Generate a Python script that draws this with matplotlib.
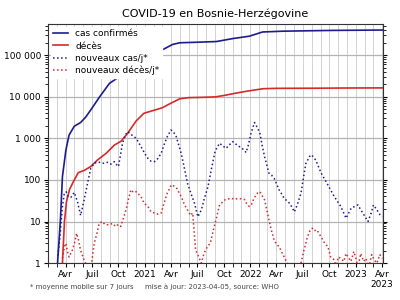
import matplotlib
matplotlib.use('Agg')
import matplotlib.pyplot as plt
import matplotlib.dates as mdates
from matplotlib.ticker import FuncFormatter, LogLocator, NullFormatter
import numpy as np
import pandas as pd

# données (OMS)
cas_dates = ['2020-03-04', '2020-03-14', '2020-03-21', '2020-04-02', '2020-04-13',
             '2020-05-01', '2020-05-23', '2020-06-09', '2020-06-27', '2020-07-28',
             '2020-08-31', '2020-09-30', '2020-10-28', '2020-11-30', '2020-12-31',
             '2021-01-28', '2021-03-03', '2021-04-06', '2021-05-01', '2021-07-08',
             '2021-09-05', '2021-11-01', '2021-12-28', '2022-02-12', '2022-04-22',
             '2022-10-13', '2023-04-05']
cas_confirmes = [1, 11, 120, 525, 1200,
                 1950, 2400, 3200, 4800, 10000,
                 21000, 29000, 42000, 85000, 110000,
                 120000, 135000, 180000, 198000, 205000,
                 212000, 250000, 285000, 360000, 376000,
                 393000, 401000]

deces_dates = ['2020-03-21', '2020-03-28', '2020-04-04', '2020-04-15', '2020-05-01',
               '2020-05-15', '2020-06-05', '2020-06-27', '2020-07-20', '2020-08-20',
               '2020-09-17', '2020-10-10', '2020-11-01', '2020-12-01', '2020-12-28',
               '2021-01-31', '2021-03-01', '2021-04-01', '2021-05-01', '2021-06-01',
               '2021-07-15', '2021-09-01', '2021-10-01', '2021-11-01', '2021-12-01',
               '2022-01-01', '2022-02-15', '2022-04-01', '2022-08-01', '2022-12-01',
               '2023-04-05']
deces = [1, 10, 30, 60, 100,
         150, 170, 210, 300, 440,
         690, 850, 1300, 2600, 4000,
         4700, 5400, 7000, 8900, 9500,
         9650, 9900, 10700, 11800, 12900,
         14000, 15600, 15900, 16000, 16200,
         16300]

nc_dates = ['2020-03-05', '2020-03-12', '2020-03-20', '2020-03-27', '2020-04-03',
            '2020-04-10', '2020-04-19', '2020-05-01', '2020-05-12', '2020-05-23',
            '2020-06-04', '2020-06-16', '2020-06-27', '2020-07-09', '2020-07-20',
            '2020-08-01', '2020-08-12', '2020-08-24', '2020-09-05', '2020-09-17',
            '2020-09-25', '2020-10-01', '2020-10-08', '2020-10-15', '2020-10-25',
            '2020-11-02', '2020-11-12', '2020-11-25', '2020-12-05', '2020-12-18',
            '2021-01-01', '2021-01-11', '2021-01-22', '2021-02-03', '2021-02-15',
            '2021-02-26', '2021-03-08', '2021-03-19', '2021-04-01', '2021-04-10',
            '2021-04-19', '2021-05-06', '2021-05-18', '2021-05-28', '2021-06-10',
            '2021-06-21', '2021-07-03', '2021-07-15', '2021-07-25', '2021-08-07',
            '2021-08-20', '2021-09-01', '2021-09-16', '2021-09-28', '2021-10-09',
            '2021-10-20', '2021-11-01', '2021-11-12', '2021-11-24', '2021-12-05',
            '2021-12-17', '2021-12-25', '2022-01-03', '2022-01-15', '2022-01-25',
            '2022-02-03', '2022-02-10', '2022-02-19', '2022-03-06', '2022-03-15',
            '2022-03-24', '2022-04-10', '2022-04-20', '2022-04-28', '2022-05-15',
            '2022-05-25', '2022-06-02', '2022-06-12', '2022-06-25', '2022-07-05',
            '2022-07-12', '2022-07-28', '2022-08-05', '2022-08-15', '2022-09-03',
            '2022-09-26', '2022-10-18', '2022-11-10', '2022-11-28', '2022-12-16',
            '2023-01-08', '2023-01-25', '2023-02-12', '2023-02-23', '2023-03-03',
            '2023-03-15', '2023-03-27', '2023-04-02']
nouveaux_cas = [1.5, 4, 20, 45, 52,
                40, 38, 50, 30, 14,
                33, 83, 190, 250, 270,
                260, 250, 265, 240, 275,
                230, 210, 400, 760, 1200,
                1450, 1250, 1100, 900, 630,
                420, 330, 280, 275, 330,
                440, 700, 1100, 1580, 1400,
                1100, 440, 180, 83, 45,
                28, 13, 19, 35, 69,
                200, 500, 760, 650, 575,
                700, 830, 720, 630, 560,
                455, 700, 1320, 2400, 1800,
                1320, 700, 360, 145, 130,
                110, 58, 45, 36, 28,
                22, 17, 25, 48, 130,
                250, 400, 370, 300, 145,
                76, 40, 23, 12, 21,
                25, 16, 10, 16, 25,
                19, 14, 13]

nd_dates = ['2020-03-21', '2020-03-28', '2020-04-02', '2020-04-08', '2020-04-13',
            '2020-04-25', '2020-05-04', '2020-05-09', '2020-05-16', '2020-05-23',
            '2020-06-04', '2020-06-12', '2020-06-21', '2020-06-28', '2020-07-09',
            '2020-07-18', '2020-07-26', '2020-08-06', '2020-08-15', '2020-08-30',
            '2020-09-10', '2020-09-21', '2020-10-01', '2020-10-09', '2020-10-18',
            '2020-10-27', '2020-11-05', '2020-11-13', '2020-11-22', '2020-12-01',
            '2020-12-10', '2020-12-18', '2020-12-28', '2021-01-11', '2021-01-22',
            '2021-02-03', '2021-02-15', '2021-02-26', '2021-03-08', '2021-03-19',
            '2021-04-02', '2021-04-10', '2021-04-19', '2021-05-06', '2021-05-18',
            '2021-05-28', '2021-06-08', '2021-06-15', '2021-06-25', '2021-07-06',
            '2021-07-15', '2021-07-24', '2021-08-05', '2021-08-15', '2021-08-25',
            '2021-09-05', '2021-09-16', '2021-10-04', '2021-10-15', '2021-10-27',
            '2021-11-08', '2021-11-19', '2021-12-01', '2021-12-11', '2021-12-20',
            '2021-12-28', '2022-01-05', '2022-01-13', '2022-01-25', '2022-02-03',
            '2022-02-12', '2022-02-19', '2022-03-06', '2022-03-15', '2022-03-24',
            '2022-04-02', '2022-04-10', '2022-04-20', '2022-04-28', '2022-05-09',
            '2022-05-20', '2022-06-10', '2022-06-25', '2022-07-05', '2022-07-18',
            '2022-07-26', '2022-08-03', '2022-08-10', '2022-08-19', '2022-09-05',
            '2022-09-15', '2022-09-26', '2022-10-06', '2022-10-18', '2022-10-25',
            '2022-11-01', '2022-11-10', '2022-11-20', '2022-11-28', '2022-12-05',
            '2022-12-15', '2022-12-25', '2023-01-01', '2023-01-08', '2023-01-18',
            '2023-01-28', '2023-02-05', '2023-02-15', '2023-02-25', '2023-03-05',
            '2023-03-15', '2023-03-25', '2023-04-02']
nouveaux_deces = [1.3, 2.5, 3, 1.8, 1.4,
                  2.1, 3.5, 5.2, 3.5, 2,
                  1.2, 0.9, 1.0, 0.8, 3,
                  5, 9, 10, 8.5, 8.3,
                  9, 7.6, 8.5, 7.6, 12,
                  19, 35, 58, 50, 52,
                  45, 40, 28, 23, 17,
                  16, 15, 16, 28, 48,
                  76, 72, 66, 40, 25,
                  19, 14, 16, 2.1, 1.4,
                  1.0, 1.7, 2.5, 3, 6,
                  12, 25, 33, 35, 36,
                  34, 36, 35, 34, 26,
                  23, 26, 36, 48, 52,
                  40, 33, 11, 6, 3.6,
                  2.8, 2.5, 1.8, 1.4, 1.0,
                  0.7, 0.6, 1.0, 2, 4.4,
                  6, 6.9, 6, 6.3, 4,
                  3, 2.5, 1.4, 1.2, 0.8,
                  1.4, 1.3, 1.1, 1.7, 1.4,
                  1.1, 1.9, 1.3, 0.8, 1.7,
                  1.1, 1.3, 0.8, 1.6, 1.2,
                  1.0, 1.6, 1.3]

labels = ['cas confirmés', 'décès', 'nouveaux cas/j*', 'nouveaux décès/j*']
mois_labels = {4: 'Avr', 7: 'Juil', 10: 'Oct'}
y_ticks = [1, 10, 100, 1000, 10000, 100000]

bleu = '#1c1c8f'
rouge = '#d42a2a'

fig = plt.figure(figsize=(4, 3), dpi=100)
ax = fig.add_axes([0.12, 0.123, 0.8375, 0.797])

ax.plot(pd.to_datetime(cas_dates), cas_confirmes, color=bleu, lw=1.2, label=labels[0])
ax.plot(pd.to_datetime(deces_dates), deces, color=rouge, lw=1.2, label=labels[1])
ax.plot(pd.to_datetime(nc_dates), nouveaux_cas, color=bleu, lw=1.1, ls=':', label=labels[2])
ax.plot(pd.to_datetime(nd_dates), nouveaux_deces, color=rouge, lw=1.1, ls=':', label=labels[3])

ax.set_yscale('log')
ax.set_ylim(1, 5.6e5)
ax.set_xlim(pd.Timestamp('2020-01-31'), pd.Timestamp('2023-04-05'))

ax.set_yticks(y_ticks)
ax.yaxis.set_major_formatter(FuncFormatter(lambda v, p: f'{int(round(v)):,}'.replace(',', ' ')))
ax.yaxis.set_minor_locator(LogLocator(base=10, subs=np.arange(2, 10)))
ax.yaxis.set_minor_formatter(NullFormatter())

ax.xaxis.set_major_locator(mdates.MonthLocator(bymonth=[1, 4, 7, 10]))
ax.xaxis.set_minor_locator(mdates.MonthLocator())


def fmt_date(x, pos):
    d = mdates.num2date(x)
    if d.month == 1:
        return str(d.year)
    s = mois_labels.get(d.month, '')
    if d.year == 2023 and d.month == 4:
        s += '\n2023'
    return s


ax.xaxis.set_major_formatter(FuncFormatter(fmt_date))

ax.tick_params(axis='both', which='major', labelsize=6.5, length=3, width=0.8,
               colors='black', right=True)
ax.tick_params(axis='y', which='minor', length=2, width=0.6, right=True)
ax.tick_params(axis='x', which='minor', length=3, width=0.6)
ax.tick_params(axis='x', which='major', pad=2)
ax.tick_params(axis='y', which='major', pad=2)

ax.grid(True, axis='x', which='both', color='#d2d2d2', lw=0.7)
ax.grid(True, axis='y', which='major', color='#b4b4b4', lw=0.9)
ax.set_axisbelow(True)
for s in ax.spines.values():
    s.set_color('#333333')
    s.set_linewidth(0.8)

leg = ax.legend(loc='upper left', fontsize=6.5, frameon=True, framealpha=1,
                edgecolor='white', fancybox=False, handlelength=1.6,
                borderaxespad=0.3, labelspacing=0.35, borderpad=0.3)

ax.set_title('COVID-19 en Bosnie-Herzégovine', fontsize=8, pad=5)

fig.text(0.075, 0.043, '* moyenne mobile sur 7 jours', fontsize=5, color='#444444', va='center')
fig.text(0.362, 0.043, 'mise à jour: 2023-04-05, source: WHO', fontsize=5, color='#444444', va='center')

fig.savefig('out.png', dpi=100)
